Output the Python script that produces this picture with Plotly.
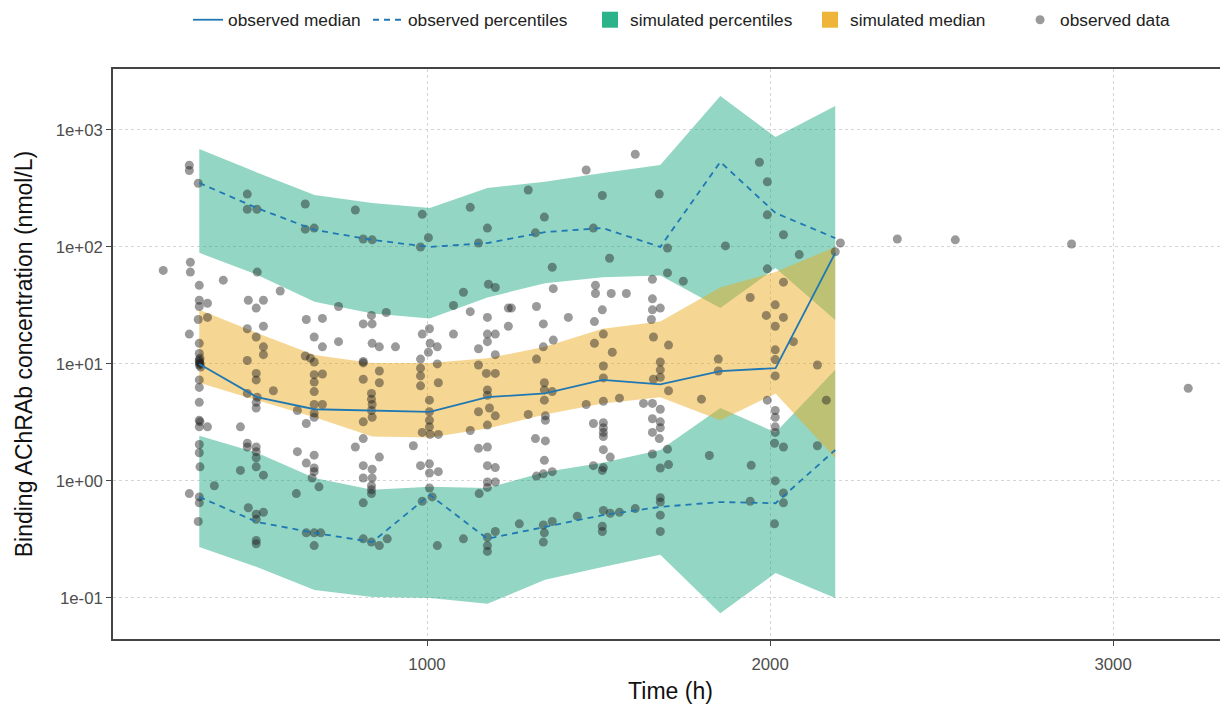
import plotly.graph_objects as go

# ---- binned summary ----
bin_time = [336, 504, 672, 840, 1008, 1176, 1344, 1512, 1680, 1855, 2016, 2190]

# simulated CI of upper percentile
sim_hi_top = [689, 433, 278, 238, 215, 319, 360, 429, 502, 1950, 871, 1600]
sim_hi_bot = [89, 58, 34, 27, 24.5, 37, 49, 55, 57, 30, 66, 23.8]
# simulated CI of median
sim_med_top = [29, 18.4, 11.9, 10.2, 10.2, 11.2, 14, 20, 23, 45, 61, 100]
sim_med_bot = [6.9, 4.9, 3.5, 2.4, 2.35, 2.8, 3.7, 4.6, 5.2, 3.3, 5.6, 1.57]
# simulated CI of lower percentile
sim_lo_top = [2.43, 1.74, 1.06, 0.84, 0.89, 0.87, 1.19, 1.43, 1.84, 4.2, 2.6, 8.9]
sim_lo_bot = [0.273, 0.184, 0.117, 0.102, 0.1, 0.089, 0.143, 0.184, 0.234, 0.074, 0.163, 0.1]

# observed statistics
obs_median = [10, 5.2, 4.1, 3.98, 3.9, 5.2, 5.6, 7.3, 6.7, 8.7, 9.2, 89]
obs_p_hi = [352, 215, 140, 115, 100, 108, 134, 145, 100, 533, 195, 119]
obs_p_lo = [0.73, 0.446, 0.36, 0.30, 0.76, 0.32, 0.405, 0.51, 0.6, 0.66, 0.645, 1.84]

# observed data points (time, concentration)
obs_points = [
    # ~336 h
    (307, 500), (307, 450), (333, 350), (310, 74), (310, 61), (231, 63), (336, 47), (406, 52),
    (336, 35), (336, 31), (360, 33), (333, 24), (360, 25), (307, 18), (336, 15), (336, 12.3),
    (338, 11.2), (338, 10), (340, 9.4), (336, 10.8), (338, 10.2), (336, 10.5), (336, 9.8),
    (336, 7.3), (336, 6.3), (336, 4.7), (336, 3.3), (338, 3.2), (336, 2.9), (360, 2.9),
    (336, 2.05), (336, 1.74), (338, 1.32), (380, 0.91), (307, 0.78), (336, 0.73), (336, 0.65),
    (333, 0.45),
    # ~504 h
    (476, 283), (476, 210), (504, 210), (505, 61), (572, 42), (479, 35), (523, 35), (502, 30),
    (476, 20), (523, 21), (502, 17), (523, 14), (523, 12), (476, 10.7), (502, 8.3), (502, 7.3),
    (552, 5.9), (476, 5.6), (505, 5.2), (502, 4.7), (502, 4.2), (456, 2.9), (476, 2.1),
    (502, 1.95), (502, 1.78), (502, 1.58), (476, 1.95), (456, 1.23), (502, 1.32), (523, 1.12),
    (479, 0.59), (502, 0.52), (523, 0.54), (502, 0.47), (502, 0.31), (502, 0.29),
    # ~672 h
    (645, 233), (645, 142), (671, 145), (742, 31), (648, 24), (695, 24.5), (671, 17), (695, 14),
    (742, 15.5), (645, 11.7), (660, 11.2), (671, 8.1), (695, 8.2), (671, 10.4), (671, 7.0),
    (671, 5.8), (622, 4.0), (671, 4.5), (695, 4.5), (671, 3.8), (671, 3.5), (648, 3.1),
    (622, 1.78), (671, 1.66), (648, 1.42), (671, 1.29), (671, 1.2), (665, 1.06), (685, 0.89),
    (619, 0.78), (648, 0.36), (671, 0.36), (690, 0.36), (671, 0.28),
    # ~840 h
    (791, 207), (814, 117), (840, 115), (881, 27.5), (838, 26), (814, 22), (840, 22), (840, 15),
    (861, 14), (908, 14), (814, 10.5), (861, 8.7), (814, 10.2), (814, 7.4), (861, 6.9),
    (838, 5.6), (838, 5.0), (840, 4.5), (838, 4.0), (840, 3.5), (814, 3.2), (814, 2.3),
    (791, 1.95), (861, 1.6), (814, 1.35), (840, 1.26), (814, 1.06), (840, 1.06), (838, 0.91),
    (838, 0.84), (838, 0.78), (814, 0.65), (814, 0.32), (838, 0.30), (861, 0.28), (884, 0.32),
    # ~1008 h
    (986, 190), (1004, 120), (981, 100), (1007, 20), (986, 18), (1009, 15), (1030, 14),
    (1004, 12.6), (981, 11), (1030, 10), (981, 9.2), (981, 7.9), (981, 6.5), (1033, 6.9),
    (1007, 4.9), (1007, 3.9), (1007, 3.3), (1007, 2.9), (986, 2.6), (1009, 2.5), (1033, 2.5),
    (960, 2.0), (1007, 1.4), (981, 1.35), (1007, 1.17), (1033, 1.2), (1007, 0.87), (986, 0.67),
    (1015, 0.73), (1030, 0.28),
    # ~1176 h
    (1126, 218), (1176, 145), (1150, 108), (1179, 48), (1199, 45), (1106, 41), (1077, 31.6),
    (1126, 28), (1176, 25), (1077, 18), (1176, 18), (1199, 18), (1176, 15.5), (1150, 13.5),
    (1199, 12), (1150, 9.8), (1199, 8.3), (1173, 8.3), (1237, 30), (1237, 21), (1176, 6.0),
    (1176, 5.4), (1150, 3.9), (1182, 4.2), (1199, 3.6), (1176, 3.0), (1126, 2.7), (1150, 1.9),
    (1176, 1.95), (1176, 1.35), (1199, 1.3), (1176, 0.98), (1199, 0.98), (1176, 0.88),
    (1152, 0.78), (1199, 0.37), (1176, 0.33), (1176, 0.28), (1176, 0.25), (1106, 0.32),
    # ~1344 h
    (1295, 307), (1342, 180), (1316, 132), (1365, 67), (1368, 44), (1246, 30), (1319, 31),
    (1412, 25), (1339, 22), (1368, 16), (1339, 14), (1319, 11), (1342, 6.9), (1342, 6.0),
    (1342, 4.9), (1365, 5.8), (1345, 3.6), (1345, 3.3), (1295, 3.7), (1316, 2.3), (1345, 2.2),
    (1342, 1.5), (1319, 1.1), (1339, 1.15), (1365, 1.2), (1269, 0.43), (1339, 0.42),
    (1342, 0.36), (1339, 0.30), (1365, 0.45), (1438, 0.50),
    # ~1512 h
    (1464, 455), (1511, 275), (1485, 145), (1532, 80), (1491, 47), (1491, 40), (1537, 40),
    (1581, 40), (1511, 29), (1488, 23), (1514, 18), (1488, 15), (1540, 12.6), (1514, 9.6),
    (1514, 7.6), (1514, 4.8), (1485, 3.1), (1514, 3.15), (1514, 2.85), (1514, 2.6), (1514, 2.4),
    (1464, 4.5), (1561, 5.1), (1514, 1.85), (1534, 1.6), (1485, 1.35), (1514, 1.3), (1511, 1.23),
    (1514, 0.56), (1534, 0.53), (1561, 0.54), (1607, 0.58), (1511, 0.41), (1511, 0.37),
    # ~1680 h
    (1607, 620), (1677, 283), (1701, 98), (1747, 51), (1701, 60), (1657, 53), (1657, 36),
    (1657, 29), (1654, 24), (1680, 30), (1660, 17), (1704, 14.5), (1680, 10.4), (1680, 8.9),
    (1680, 7.7), (1660, 7.4), (1704, 5.9), (1631, 4.6), (1657, 4.6), (1680, 4.1), (1657, 3.4),
    (1680, 3.2), (1680, 2.85), (1657, 2.6), (1677, 2.3), (1800, 5.0), (1657, 1.7), (1701, 1.87),
    (1680, 1.29), (1704, 1.38), (1823, 1.65), (1680, 0.72), (1680, 0.66), (1680, 0.51),
    (1680, 0.37),
    # ~1850 h
    (1849, 11), (1870, 102), (1849, 8.7), (1945, 1.36), (1942, 0.67), (1942, 37),
    # ~2016 h
    (1969, 530), (1992, 360), (1992, 188), (2039, 127), (2085, 86), (1992, 65), (2039, 50),
    (2015, 32), (1989, 26), (2039, 25), (2015, 21), (2068, 15.5), (2015, 13.2), (2015, 10.9),
    (2015, 7.9), (2138, 9.8), (1992, 4.9), (2015, 4.0), (2015, 3.5), (2015, 2.9), (2015, 2.6),
    (2013, 2.1), (2039, 1.95), (2138, 2.0), (2164, 4.9), (2015, 1.0), (2039, 0.79), (2039, 0.65),
    (2013, 0.43),
    # late
    (2205, 108), (2190, 91), (2371, 117), (2540, 115), (2879, 106), (3219, 6.2),
]
obs_time = [p[0] for p in obs_points]
obs_conc = [p[1] for p in obs_points]

# ---- styles ----
FONT = "Liberation Sans, Arial, Helvetica, sans-serif"
GREEN_FILL = "rgba(30,170,130,0.48)"
ORANGE_FILL = "rgba(235,170,30,0.48)"
GREEN_KEY = "#2db38a"
ORANGE_KEY = "#efb43a"
LINE_BLUE = "#1f78b4"

fig = go.Figure()


def band(lo, hi, color):
    fig.add_trace(go.Scatter(
        x=bin_time + bin_time[::-1], y=hi + lo[::-1],
        fill="toself", fillcolor=color, mode="lines",
        line=dict(width=0), hoverinfo="skip", showlegend=False))


band(sim_hi_bot, sim_hi_top, GREEN_FILL)
band(sim_lo_bot, sim_lo_top, GREEN_FILL)
band(sim_med_bot, sim_med_top, ORANGE_FILL)

# observed points
fig.add_trace(go.Scatter(
    x=obs_time, y=obs_conc, mode="markers", name="observed data",
    marker=dict(size=9, color="rgba(30,30,30,0.45)", line=dict(width=0)),
    legend="legend5"))

# observed lines
fig.add_trace(go.Scatter(
    x=bin_time, y=obs_median, mode="lines", name="observed median",
    line=dict(color=LINE_BLUE, width=1.8), legend="legend"))
fig.add_trace(go.Scatter(
    x=bin_time, y=obs_p_hi, mode="lines", name="observed percentiles",
    line=dict(color=LINE_BLUE, width=1.8, dash="6px,5px"), legendgroup="pct",
    legend="legend2"))
fig.add_trace(go.Scatter(
    x=bin_time, y=obs_p_lo, mode="lines", name="observed percentiles",
    line=dict(color=LINE_BLUE, width=1.8, dash="6px,5px"), legendgroup="pct",
    showlegend=False, legend="legend2"))

# legend keys for the ribbons
fig.add_trace(go.Scatter(
    x=[None], y=[None], mode="markers", name="simulated percentiles",
    marker=dict(symbol="square", size=16, color=GREEN_KEY), legend="legend3"))
fig.add_trace(go.Scatter(
    x=[None], y=[None], mode="markers", name="simulated median",
    marker=dict(symbol="square", size=16, color=ORANGE_KEY), legend="legend4"))

LEG_Y = 1.086


def leg(xpos):
    return dict(orientation="h", x=xpos, xanchor="left", y=LEG_Y, yanchor="middle",
                font=dict(size=17.3, color="#222222"), itemsizing="trace",
                bgcolor="rgba(0,0,0,0)")


# the page body adds an 8 px offset, so the figure is drawn 8 px smaller
fig.update_layout(
    width=1220, height=696,
    margin=dict(l=105, r=0, t=61, b=65, autoexpand=False),
    paper_bgcolor="white", plot_bgcolor="white",
    font=dict(family=FONT, color="#222222"),
    showlegend=True,
    legend=leg(0.0673),
    legend2=leg(0.2287),
    legend3=leg(0.4278),
    legend4=leg(0.6251),
    legend5=leg(0.8135),
    xaxis=dict(
        range=[84.5, 3335], tickvals=[1000, 2000, 3000], ticktext=["1000", "2000", "3000"],
        showgrid=True, gridcolor="#d4d4d4", griddash="dot", gridwidth=1,
        zeroline=False, showline=True, linecolor="#444444", linewidth=1.6, mirror=True,
        ticks="outside", ticklen=5, tickcolor="#444444", tickwidth=1.2,
        ticklabelstandoff=4, automargin=False,
        tickfont=dict(size=16.8, color="#4d4d4d"),
        title=dict(text="Time (h)", font=dict(size=23, color="#111111"), standoff=11)),
    yaxis=dict(
        type="log", range=[-1.351, 3.521],
        tickvals=[0.1, 1, 10, 100, 1000],
        ticktext=["1e-01", "1e+00", "1e+01", "1e+02", "1e+03"],
        showgrid=True, gridcolor="#d4d4d4", griddash="dot", gridwidth=1,
        zeroline=False, showline=True, linecolor="#444444", linewidth=1.6, mirror=False,
        ticks="outside", ticklen=5, tickcolor="#444444", tickwidth=1.2,
        automargin=False,
        tickfont=dict(size=16.8, color="#4d4d4d"),
        title=dict(text="Binding AChRAb concentration (nmol/L)",
                   font=dict(size=23, color="#111111"), standoff=17)),
)

fig.write_html("out.html")
